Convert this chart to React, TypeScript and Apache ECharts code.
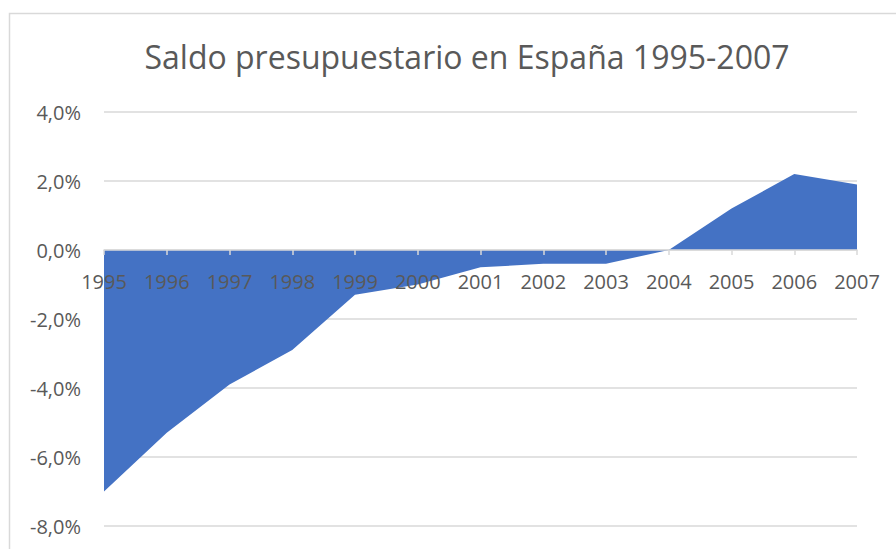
import React, { useEffect, useRef } from "react";
import * as echarts from "echarts";

const TITLE = "Saldo presupuestario en España 1995-2007";
const years = ["1995","1996","1997","1998","1999","2000","2001","2002","2003","2004","2005","2006","2007"];
const saldo = [-7.0, -5.3, -3.9, -2.9, -1.3, -1.0, -0.5, -0.4, -0.4, 0.0, 1.2, 2.2, 1.9];
const yMin = -8;
const yMax = 4;
const yStep = 2;

const TEXT = "#595959";
const GRID = "#D9D9D9";
const FILL = "#4472C4";
const FONT = "'Open Sans', 'Noto Sans', sans-serif";

const W = 896;
const H = 549;
const G_TOP = 112;
const G_BOTTOM = 23;
const plotH = H - G_TOP - G_BOTTOM;
// shift the category axis up onto the zero line
const zeroOffset = -plotH * (0 - yMin) / (yMax - yMin);

export default function App() {
  const ref = useRef<HTMLDivElement>(null);
  useEffect(() => {
    if (!ref.current) return;
    const chart = echarts.init(ref.current, undefined, { renderer: "svg" });
    chart.setOption({
      animation: false,
      backgroundColor: "#ffffff",
      title: {
        text: TITLE,
        left: 462,
        top: 35,
        textAlign: "center",
        textStyle: { color: TEXT, fontFamily: FONT, fontSize: 32, fontWeight: "normal" },
      },
      graphic: [
        {
          type: "rect",
          shape: { x: 9.5, y: 13.5, width: 920, height: 600 },
          style: { fill: "none", stroke: GRID, lineWidth: 1.5 },
          silent: true,
          z: -1,
        },
      ],
      grid: { left: 104, right: 39, top: G_TOP, bottom: G_BOTTOM, containLabel: false, outerBoundsMode: "none" },
      xAxis: {
        type: "category",
        data: years,
        boundaryGap: false,
        position: "bottom",
        offset: zeroOffset,
        z: 5,
        axisLine: { onZero: false, lineStyle: { color: GRID, width: 1.5 } },
        axisTick: { show: true, length: 5, lineStyle: { color: GRID, width: 1.5 } },
        axisLabel: { color: TEXT, fontFamily: FONT, fontSize: 20, margin: 21 },
        splitLine: { show: false },
      },
      yAxis: {
        type: "value",
        min: yMin,
        max: yMax,
        interval: yStep,
        axisLine: { show: false },
        axisTick: { show: false },
        axisLabel: {
          color: TEXT,
          fontFamily: FONT,
          fontSize: 20,
          margin: 23,
          formatter: (v: number) => v.toFixed(1).replace(".", ",") + "%",
        },
        splitLine: { lineStyle: { color: GRID, width: 1.5 } },
      },
      series: [
        {
          type: "line",
          data: saldo,
          symbol: "none",
          lineStyle: { width: 0 },
          areaStyle: { color: FILL, opacity: 1 },
          z: 2,
        },
      ],
    });
    return () => chart.dispose();
  }, []);
  return (
    <div
      ref={ref}
      style={{ position: "fixed", left: 0, top: 0, width: W, height: H, background: "#fff" }}
    />
  );
}
